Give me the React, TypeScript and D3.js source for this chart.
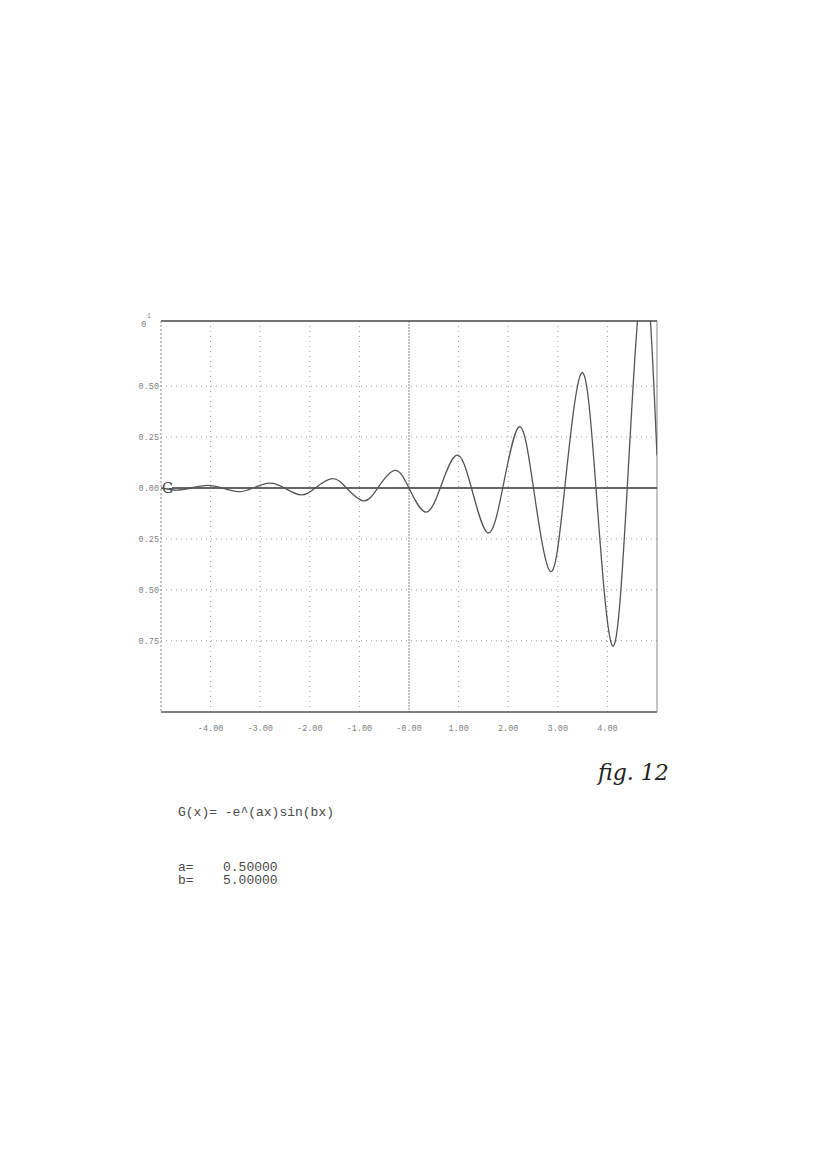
import React from "react";
import * as d3 from "d3";

// key points of the curve (x, G(x) in units of 10^1)
const curveX = [-5.0, -4.69, -4.4, -4.06, -3.77, -3.44, -3.14, -2.81, -2.51, -2.18, -1.89, -1.55, -1.26, -0.92, -0.63, -0.29, 0.0, 0.33, 0.63, 0.96, 1.26, 1.59, 1.89, 2.22, 2.51, 2.85, 3.14, 3.48, 3.77, 4.1, 4.4, 4.73, 5.0];
const curveY = [0.0, -0.01, 0.0, 0.013, 0.0, -0.018, 0.0, 0.024, 0.0, -0.034, 0.0, 0.046, 0.0, -0.063, 0.0, 0.086, 0.0, -0.118, 0.0, 0.161, 0.0, -0.22, 0.0, 0.3, 0.0, -0.41, 0.0, 0.565, 0.0, -0.775, 0.0, 1.06, 0.16];

const xTicks = [-4, -3, -2, -1, 0, 1, 2, 3, 4];
const xTickLabels = ["-4.00", "-3.00", "-2.00", "-1.00", "-0.00", "1.00", "2.00", "3.00", "4.00"];
const yTicks = [0.5, 0.25, 0, -0.25, -0.5, -0.75];
const yTickLabels = ["0.50", "0.25", "0.00", "0.25", "0.50", "0.75"];

const formula = "G(x)= -e^(ax)sin(bx)";
const params = [
  { name: "a=", value: "0.50000" },
  { name: "b=", value: "5.00000" },
];

const W = 827;
const H = 1170;
const left = 161;
const right = 657;
const top = 321;
const bottom = 712;

export default function App() {
  const x = d3.scaleLinear().domain([-5, 5]).range([left, right]);
  const y = d3.scaleLinear().domain([-1.1, 0.82]).range([bottom, top]);

  const pts: [number, number][] = curveX.map((v, i) => [v, curveY[i]]);
  const line = d3
    .line<[number, number]>()
    .x((d) => x(d[0]))
    .y((d) => y(d[1]))
    .curve(d3.curveNatural);

  const mono = "'Liberation Mono', 'DejaVu Sans Mono', monospace";
  const grid = "#999";
  const label = "#808080";

  return (
    <svg
      width={W}
      height={H}
      style={{ position: "absolute", left: 0, top: 0, background: "#fff" }}
    >
      <defs>
        <clipPath id="plot">
          <rect x={left} y={top} width={right - left} height={bottom - top} />
        </clipPath>
      </defs>

      {/* grid */}
      {xTicks.map((t) => (
        <line
          key={"gx" + t}
          x1={x(t)}
          x2={x(t)}
          y1={top}
          y2={bottom}
          stroke={t === 0 ? "#888" : grid}
          strokeWidth={1}
          strokeDasharray={t === 0 ? "2 1" : "1 4"}
        />
      ))}
      {yTicks
        .filter((t) => t !== 0)
        .map((t) => (
          <line
            key={"gy" + t}
            x1={left}
            x2={right}
            y1={y(t)}
            y2={y(t)}
            stroke={grid}
            strokeWidth={1}
            strokeDasharray="1 4"
          />
        ))}

      {/* frame */}
      <line x1={left} x2={right} y1={top} y2={top} stroke="#444" strokeWidth={1.3} />
      <line x1={left} x2={right} y1={bottom} y2={bottom} stroke="#555" strokeWidth={1.3} />
      <line x1={left} x2={left} y1={top} y2={bottom} stroke="#888" strokeWidth={1} strokeDasharray="2 2" />
      <line x1={right} x2={right} y1={top} y2={bottom} stroke="#888" strokeWidth={1} />

      {/* zero line */}
      <line x1={left + 11} x2={right} y1={y(0)} y2={y(0)} stroke="#333" strokeWidth={1.6} />
      <text x={left + 1} y={y(0) + 5} fontFamily="'DejaVu Serif', serif" fontSize={14} fill="#444">
        G
      </text>

      {/* curve */}
      <path
        d={line(pts) ?? ""}
        fill="none"
        stroke="#555"
        strokeWidth={1.3}
        clipPath="url(#plot)"
      />

      {/* y labels */}
      {yTicks.map((t, i) => (
        <text
          key={"ly" + t}
          x={left - 2}
          y={y(t) + 3}
          textAnchor="end"
          fontFamily={mono}
          fontSize={8.5}
          fill={label}
        >
          {yTickLabels[i]}
        </text>
      ))}
      <text x={141} y={327} fontFamily={mono} fontSize={9} fill={label}>
        0
      </text>
      <text x={147} y={318} fontFamily={mono} fontSize={6.5} fill={label}>
        1
      </text>

      {/* x labels */}
      {xTicks.map((t, i) => (
        <text
          key={"lx" + t}
          x={x(t)}
          y={731}
          textAnchor="middle"
          fontFamily={mono}
          fontSize={8.5}
          fill={label}
        >
          {xTickLabels[i]}
        </text>
      ))}

      {/* handwritten figure label */}
      <text
        x={598}
        y={780}
        fontFamily="'DejaVu Serif', serif"
        fontStyle="italic"
        fontSize={22}
        fill="#222"
      >
        fig. 12
      </text>

      {/* formula and parameters */}
      <text x={178} y={816} fontFamily={mono} fontSize={13} fill="#4a4a4a">
        {formula}
      </text>
      {params.map((p, i) => (
        <g key={p.name}>
          <text x={178} y={871 + i * 13} fontFamily={mono} fontSize={13} fill="#4a4a4a">
            {p.name}
          </text>
          <text x={223} y={871 + i * 13} fontFamily={mono} fontSize={13} fill="#4a4a4a">
            {p.value}
          </text>
        </g>
      ))}
    </svg>
  );
}
